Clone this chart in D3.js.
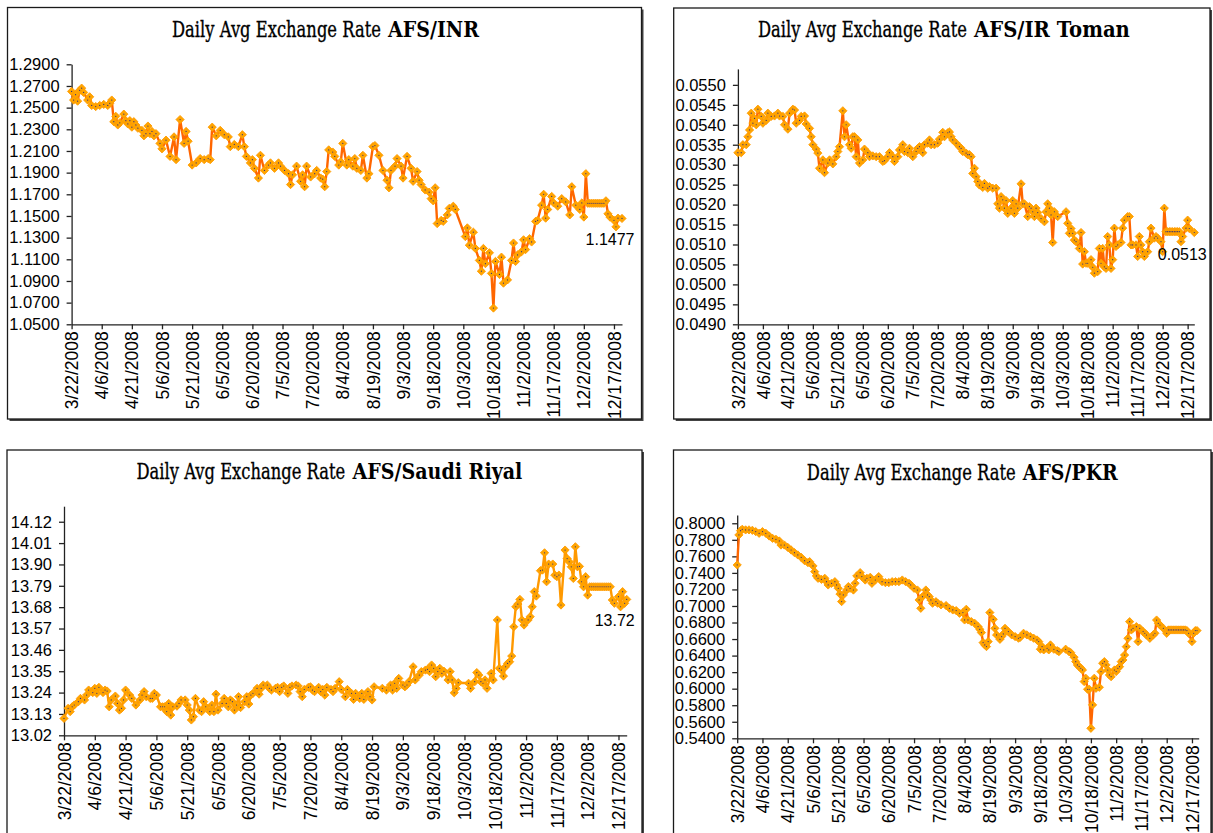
<!DOCTYPE html>
<html><head><meta charset="utf-8">
<script src="https://cdn.jsdelivr.net/npm/d3@7"></script>
<style>body{margin:0;background:#fff}svg{display:block}</style>
</head><body>
<svg id="c" width="1213" height="833"></svg>
<script>
// ---------- DATA ----------
const startDate = "2008-03-22";
const xTickLabels = ["3/22/2008","4/6/2008","4/21/2008","5/6/2008","5/21/2008","6/5/2008","6/20/2008","7/5/2008","7/20/2008","8/4/2008","8/19/2008","9/3/2008","9/18/2008","10/3/2008","10/18/2008","11/2/2008","11/17/2008","12/2/2008","12/17/2008"];
const titlePrefix = "Daily Avg Exchange Rate";
const seriesNames = ["AFS/INR","AFS/IR Toman","AFS/Saudi Riyal","AFS/PKR"];

const inrTicks = [1.05,1.07,1.09,1.11,1.13,1.15,1.17,1.19,1.21,1.23,1.25,1.27,1.29];
const tomanTicks = [0.049,0.0495,0.05,0.0505,0.051,0.0515,0.052,0.0525,0.053,0.0535,0.054,0.0545,0.055];
const riyalTicks = [13.02,13.13,13.24,13.35,13.46,13.57,13.68,13.79,13.90,14.01,14.12];
const pkrTicks = [0.54,0.56,0.58,0.60,0.62,0.64,0.66,0.68,0.70,0.72,0.74,0.76,0.78,0.80];

// [days after 3/22/2008, rate]
const inrSeries = [[0,1.265],[1,1.257],[2,1.262],[3,1.256],[4,1.266],[5,1.268],[6,1.264],[8,1.257],[9,1.260],[10,1.252],[12,1.251],[14,1.252],[16,1.253],[18,1.252],[19,1.254],[20,1.257],[21,1.237],[22,1.242],[23,1.234],[24,1.236],[26,1.244],[27,1.238],[28,1.235],[29,1.238],[30,1.232],[31,1.237],[32,1.234],[33,1.231],[35,1.229],[36,1.224],[37,1.226],[38,1.233],[39,1.226],[40,1.228],[41,1.224],[42,1.226],[44,1.217],[45,1.212],[47,1.220],[49,1.205],[51,1.223],[52,1.202],[54,1.239],[56,1.217],[57,1.228],[58,1.219],[60,1.197],[62,1.199],[64,1.203],[66,1.202],[68,1.203],[69,1.202],[70,1.232],[72,1.224],[74,1.229],[76,1.225],[78,1.223],[79,1.214],[81,1.216],[83,1.214],[85,1.225],[86,1.214],[87,1.205],[89,1.199],[90,1.202],[91,1.194],[93,1.185],[94,1.206],[96,1.192],[98,1.197],[99,1.199],[101,1.194],[103,1.199],[104,1.196],[106,1.192],[108,1.189],[109,1.179],[110,1.188],[112,1.196],[114,1.182],[115,1.188],[116,1.177],[117,1.196],[119,1.186],[121,1.189],[122,1.192],[124,1.185],[125,1.184],[126,1.177],[127,1.191],[128,1.211],[130,1.209],[131,1.205],[133,1.197],[134,1.200],[135,1.217],[137,1.197],[138,1.202],[140,1.196],[141,1.203],[142,1.194],[144,1.192],[145,1.206],[147,1.185],[148,1.189],[150,1.214],[151,1.215],[153,1.206],[155,1.192],[157,1.183],[158,1.176],[159,1.192],[161,1.196],[162,1.203],[164,1.196],[165,1.185],[167,1.205],[169,1.194],[170,1.182],[172,1.191],[173,1.183],[174,1.179],[176,1.174],[178,1.172],[179,1.166],[180,1.164],[181,1.176],[182,1.143],[184,1.146],[185,1.145],[187,1.151],[188,1.157],[190,1.159],[191,1.156],[196,1.131],[197,1.139],[198,1.123],[200,1.135],[201,1.120],[203,1.109],[204,1.099],[205,1.120],[206,1.106],[208,1.116],[209,1.097],[210,1.065],[211,1.108],[213,1.096],[214,1.112],[215,1.088],[217,1.091],[219,1.109],[220,1.125],[221,1.108],[222,1.114],[224,1.117],[225,1.128],[226,1.119],[228,1.129],[229,1.126],[231,1.145],[232,1.146],[234,1.160],[235,1.170],[236,1.148],[237,1.156],[239,1.168],[240,1.162],[242,1.159],[244,1.166],[246,1.163],[248,1.151],[249,1.177],[251,1.160],[253,1.156],[254,1.162],[255,1.149],[256,1.189],[257,1.1617],[258,1.1617],[259,1.1617],[260,1.1617],[261,1.1617],[262,1.1617],[263,1.1617],[264,1.1617],[265,1.1617],[266,1.164],[267,1.152],[268,1.149],[270,1.146],[271,1.140],[272,1.148],[274,1.1477]];

const tomanSeries = [[0,0.0533],[2,0.0533],[3,0.0535],[5,0.0535],[6,0.0537],[7,0.05387],[8,0.05429],[9,0.05404],[10,0.05416],[11,0.0540],[12,0.05439],[14,0.05421],[15,0.05404],[17,0.05411],[18,0.05429],[20,0.05421],[22,0.05422],[24,0.05429],[25,0.05422],[27,0.05421],[28,0.0540],[30,0.05389],[31,0.05429],[33,0.05439],[34,0.05437],[35,0.05404],[37,0.05411],[38,0.05421],[40,0.05422],[41,0.05402],[43,0.05391],[44,0.0537],[45,0.0535],[47,0.05339],[48,0.05329],[49,0.05291],[51,0.05312],[52,0.0528],[54,0.05304],[55,0.05312],[57,0.05302],[59,0.0532],[60,0.05333],[61,0.05345],[63,0.05435],[64,0.0537],[65,0.0540],[67,0.0535],[68,0.05341],[69,0.0537],[70,0.0537],[71,0.0532],[72,0.05362],[73,0.05304],[75,0.05312],[76,0.05339],[78,0.0533],[79,0.0532],[81,0.05322],[83,0.0532],[85,0.0532],[87,0.05308],[88,0.0531],[90,0.0532],[91,0.0533],[93,0.0532],[94,0.05308],[96,0.0532],[97,0.05337],[99,0.0535],[100,0.05333],[102,0.0533],[103,0.05341],[105,0.0532],[107,0.05333],[108,0.05341],[109,0.05345],[111,0.0533],[112,0.0535],[114,0.05354],[115,0.05362],[116,0.0535],[118,0.0535],[120,0.05354],[121,0.05364],[123,0.05381],[124,0.0537],[126,0.0538],[127,0.05382],[128,0.0537],[129,0.05362],[131,0.05354],[133,0.05345],[134,0.05341],[135,0.05333],[137,0.05329],[138,0.05325],[139,0.05325],[140,0.0532],[141,0.05278],[142,0.05291],[143,0.0527],[144,0.05258],[145,0.05249],[147,0.05243],[148,0.05253],[150,0.05241],[151,0.05245],[153,0.05241],[155,0.05241],[156,0.05202],[157,0.05191],[158,0.0522],[159,0.05212],[160,0.05191],[161,0.0521],[162,0.05178],[164,0.05191],[165,0.0521],[166,0.05178],[167,0.05202],[168,0.05191],[170,0.05252],[171,0.05202],[172,0.05202],[174,0.0517],[175,0.05195],[176,0.05191],[177,0.05182],[178,0.0517],[179,0.05191],[180,0.0518],[182,0.05165],[184,0.05157],[185,0.05182],[186,0.05202],[187,0.05191],[188,0.05174],[189,0.05105],[190,0.05182],[192,0.0517],[197,0.05182],[198,0.05153],[199,0.05128],[200,0.0514],[201,0.05128],[202,0.05111],[203,0.05107],[205,0.0509],[206,0.0513],[207,0.05051],[208,0.05082],[209,0.05053],[210,0.05053],[212,0.05062],[213,0.05043],[214,0.05028],[216,0.05032],[217,0.0509],[218,0.05053],[219,0.0509],[220,0.05044],[221,0.0504],[222,0.0512],[223,0.05099],[224,0.0504],[225,0.05062],[226,0.05141],[227,0.05095],[228,0.05099],[230,0.05105],[231,0.05141],[232,0.05161],[234,0.0517],[235,0.0517],[236,0.05099],[237,0.05099],[239,0.05099],[240,0.0507],[241,0.0512],[242,0.05099],[243,0.05082],[244,0.0507],[246,0.05082],[247,0.05107],[248,0.05141],[250,0.05116],[251,0.0512],[252,0.05116],[254,0.05107],[255,0.05082],[256,0.05191],[257,0.05132],[258,0.05132],[259,0.05132],[260,0.05132],[261,0.05132],[262,0.05132],[263,0.05132],[264,0.05132],[265,0.05132],[266,0.05107],[267,0.0512],[269,0.05141],[270,0.05161],[271,0.0514],[274,0.0513]];

const riyalSeries = [[0,13.107],[2,13.159],[3,13.142],[4,13.167],[5,13.176],[7,13.193],[8,13.21],[10,13.202],[11,13.227],[12,13.253],[14,13.24],[15,13.262],[16,13.236],[17,13.267],[19,13.24],[20,13.253],[21,13.248],[22,13.167],[23,13.202],[25,13.222],[26,13.184],[27,13.15],[28,13.159],[29,13.202],[30,13.253],[32,13.227],[33,13.21],[35,13.176],[37,13.202],[38,13.227],[39,13.245],[40,13.219],[42,13.21],[43,13.21],[44,13.236],[45,13.227],[47,13.167],[48,13.167],[49,13.167],[50,13.142],[51,13.184],[52,13.124],[53,13.167],[55,13.17],[56,13.184],[57,13.202],[59,13.202],[60,13.176],[61,13.15],[62,13.099],[63,13.116],[64,13.21],[66,13.15],[67,13.142],[68,13.193],[69,13.167],[71,13.142],[72,13.176],[73,13.142],[74,13.232],[75,13.15],[77,13.184],[78,13.21],[79,13.184],[80,13.167],[81,13.202],[82,13.193],[83,13.15],[84,13.176],[85,13.219],[86,13.163],[88,13.193],[89,13.219],[90,13.181],[91,13.227],[92,13.236],[94,13.262],[95,13.232],[96,13.262],[97,13.279],[99,13.279],[100,13.262],[101,13.253],[103,13.262],[104,13.267],[105,13.245],[106,13.267],[107,13.274],[109,13.236],[110,13.267],[111,13.274],[113,13.279],[114,13.274],[115,13.245],[116,13.219],[117,13.256],[119,13.267],[120,13.27],[121,13.253],[122,13.245],[124,13.267],[125,13.245],[126,13.256],[127,13.227],[128,13.267],[130,13.256],[131,13.245],[132,13.262],[134,13.296],[135,13.256],[137,13.219],[138,13.256],[140,13.236],[141,13.205],[142,13.236],[144,13.21],[145,13.236],[146,13.205],[148,13.245],[149,13.219],[150,13.202],[151,13.27],[155,13.262],[157,13.253],[159,13.279],[160,13.253],[161,13.288],[162,13.262],[163,13.313],[165,13.279],[166,13.27],[167,13.279],[168,13.296],[170,13.373],[171,13.305],[173,13.33],[174,13.348],[176,13.356],[177,13.36],[178,13.348],[179,13.382],[180,13.365],[181,13.322],[182,13.348],[183,13.365],[184,13.339],[185,13.35],[187,13.305],[188,13.348],[189,13.305],[190,13.239],[191,13.262],[192,13.291],[197,13.288],[198,13.262],[200,13.296],[201,13.343],[202,13.33],[203,13.296],[204,13.288],[205,13.305],[206,13.262],[208,13.339],[209,13.305],[211,13.614],[212,13.365],[213,13.356],[214,13.325],[215,13.373],[216,13.39],[217,13.399],[218,13.428],[219,13.579],[220,13.682],[221,13.696],[222,13.72],[223,13.614],[224,13.588],[226,13.614],[227,13.631],[228,13.682],[229,13.76],[230,13.737],[232,13.868],[233,13.871],[234,13.96],[235,13.811],[236,13.902],[238,13.902],[239,13.845],[240,13.837],[241,13.845],[242,13.691],[244,13.974],[245,13.93],[246,13.914],[247,13.888],[248,13.828],[249,13.991],[250,13.888],[251,13.89],[252,13.811],[253,13.785],[254,13.837],[255,13.742],[256,13.785],[257,13.785],[258,13.785],[259,13.785],[260,13.785],[261,13.785],[262,13.785],[263,13.785],[264,13.785],[265,13.785],[266,13.785],[267,13.717],[268,13.70],[270,13.734],[271,13.682],[272,13.76],[273,13.70],[274,13.72]];

const pkrSeries = [[0,0.7496],[1,0.7859],[2,0.791],[3,0.7927],[5,0.792],[7,0.792],[9,0.7915],[11,0.7899],[13,0.7879],[15,0.7899],[17,0.7879],[19,0.7846],[21,0.7818],[23,0.7806],[25,0.7786],[26,0.7737],[28,0.7737],[30,0.7709],[32,0.7677],[34,0.7645],[36,0.7617],[38,0.7588],[40,0.7548],[42,0.7524],[43,0.7536],[45,0.7484],[46,0.7415],[47,0.7363],[48,0.7335],[50,0.7322],[52,0.7335],[53,0.7294],[54,0.7254],[56,0.7274],[58,0.7294],[59,0.7254],[60,0.7214],[61,0.7145],[62,0.7053],[63,0.7133],[65,0.7193],[66,0.7234],[67,0.7214],[69,0.7193],[70,0.7274],[71,0.7363],[73,0.7403],[74,0.7355],[76,0.7314],[77,0.7335],[79,0.7347],[80,0.7274],[82,0.7314],[84,0.7355],[86,0.7294],[88,0.7282],[90,0.7282],[92,0.7294],[94,0.7294],[96,0.7294],[98,0.7314],[100,0.7294],[102,0.7274],[103,0.7254],[105,0.7214],[107,0.7193],[108,0.7073],[109,0.6972],[110,0.7113],[112,0.7193],[113,0.7133],[114,0.7113],[115,0.7073],[116,0.7033],[118,0.7052],[119,0.7033],[121,0.7013],[124,0.7005],[126,0.6972],[128,0.6952],[130,0.6944],[132,0.6912],[134,0.692],[135,0.6831],[136,0.696],[137,0.6831],[139,0.6811],[141,0.6791],[143,0.6751],[144,0.6718],[145,0.6678],[146,0.6557],[147,0.6529],[148,0.6509],[149,0.6569],[150,0.692],[152,0.6839],[153,0.673],[154,0.665],[156,0.6597],[157,0.663],[158,0.6662],[159,0.673],[161,0.669],[163,0.665],[165,0.663],[167,0.661],[168,0.662],[170,0.667],[172,0.665],[174,0.663],[176,0.661],[178,0.6589],[179,0.6569],[180,0.6477],[181,0.6509],[182,0.6469],[184,0.6489],[185,0.6469],[186,0.6529],[188,0.6477],[190,0.646],[191,0.6448],[195,0.6477],[197,0.6448],[198,0.6436],[200,0.638],[201,0.6327],[202,0.6287],[203,0.6267],[204,0.6247],[205,0.6227],[206,0.6086],[207,0.6126],[208,0.5993],[209,0.5993],[210,0.5521],[211,0.5804],[212,0.6126],[213,0.6005],[215,0.6017],[216,0.6207],[217,0.6307],[218,0.6327],[219,0.6287],[220,0.6226],[221,0.6166],[222,0.6145],[224,0.6226],[225,0.6207],[226,0.6247],[227,0.6266],[228,0.6327],[229,0.6347],[230,0.6407],[231,0.6508],[232,0.6609],[233,0.681],[234,0.671],[235,0.673],[237,0.675],[238,0.6569],[239,0.673],[241,0.669],[242,0.667],[243,0.6649],[245,0.6609],[247,0.6649],[248,0.667],[249,0.683],[250,0.679],[251,0.677],[253,0.673],[255,0.667],[256,0.671],[257,0.671],[258,0.671],[259,0.671],[260,0.671],[261,0.671],[262,0.671],[263,0.671],[264,0.671],[265,0.671],[266,0.671],[267,0.6702],[268,0.667],[270,0.6569],[271,0.667],[272,0.6702],[273,0.6702]];

const lastLabels = ["1.1477","0.0513","13.72",null];

// ---------- LAYOUT ----------
const svg = d3.select("#c");
const base = new Date(2008, 2, 22);
const endDate = d3.timeDay.offset(base, 274);
const tickDates = xTickLabels.map((_, i) => d3.timeDay.offset(base, i * 15));

const panels = [
  {series: inrSeries, ticks: inrTicks, fmt: ".4f", yDom: [1.05, 1.29],
   box: [7.5, 7.5, 641.5, 419], xr: [71.6, 622], yr: [324.3, 64.3], titleX: 172, titleY: 37, w2: 91,
   line: "#FF6600"},
  {series: tomanSeries, ticks: tomanTicks, fmt: ".4f", yDom: [0.049, 0.0554],
   box: [673.7, 8, 1210, 419], xr: [737.9, 1194.3], yr: [324.3, 68.9], titleX: 758, titleY: 37, w2: 156,
   line: "#FF6600"},
  {series: riyalSeries, ticks: riyalTicks, fmt: ".2f", yDom: [13.02, 14.2],
   box: [7, 450, 642, 900], xr: [64, 626.7], yr: [735.3, 506.2], titleX: 136.4, titleY: 479, w2: 170,
   line: "#FF9900"},
  {series: pkrSeries, ticks: pkrTicks, fmt: ".4f", yDom: [0.54, 0.81],
   box: [673.5, 450, 1211, 900], xr: [737.2, 1198.7], yr: [738.3, 515], titleX: 806.8, titleY: 480, w2: 95,
   line: "#FF6600"}
];

const titleFont = "'DejaVu Serif','Liberation Serif',serif";

function fitText(sel, targetW) {
  const w = sel.node().getComputedTextLength() || targetW;
  return targetW / w;
}

panels.forEach((p, pi) => {
  const g = svg.append("g");
  const [x0, y0, x1, y1] = p.box;
  // frame with shadow
  g.append("rect").attr("x", x0 + 2).attr("y", y0 + 2).attr("width", x1 - x0).attr("height", y1 - y0)
    .attr("fill", "#444");
  g.append("rect").attr("x", x0).attr("y", y0).attr("width", x1 - x0).attr("height", y1 - y0)
    .attr("fill", "#fff").attr("stroke", "#1a1a1a").attr("stroke-width", 1.3);

  // title: two parts, each scaled horizontally to a condensed width
  const t1 = g.append("text").attr("x", 0).attr("y", 0)
    .style("font-family", titleFont).style("font-size", "22px").style("font-weight", "normal")
    .attr("fill", "#000").attr("stroke", "#000").attr("stroke-width", 0.35).text(titlePrefix);
  const s1 = fitText(t1, 209);
  t1.attr("transform", `translate(${p.titleX},${p.titleY}) scale(${s1},1)`);
  const t2 = g.append("text").attr("x", 0).attr("y", 0)
    .style("font-family", titleFont).style("font-size", "22px").style("font-weight", "bold")
    .attr("fill", "#000").text(seriesNames[pi]);
  const s2 = fitText(t2, p.w2);
  t2.attr("transform", `translate(${p.titleX + 216},${p.titleY}) scale(${s2},1)`);

  const x = d3.scaleTime().domain([base, endDate]).range(p.xr);
  const y = d3.scaleLinear().domain(p.yDom).range(p.yr);

  // y axis
  const ya = g.append("g").attr("transform", `translate(${p.xr[0]},0)`)
    .call(d3.axisLeft(y).tickValues(p.ticks).tickFormat(d3.format(p.fmt)).tickSize(5).tickSizeOuter(0).tickPadding(7));
  ya.selectAll("text").style("font-family", "'Liberation Sans',Arial,sans-serif").style("font-size", "16.5px").attr("fill", "#000");
  ya.selectAll("line,path").attr("stroke", "#222").attr("stroke-width", 1.3);

  // x axis
  const xa = g.append("g").attr("transform", `translate(0,${p.yr[0]})`)
    .call(d3.axisBottom(x).tickValues(tickDates).tickFormat((d, i) => xTickLabels[i]).tickSize(5).tickSizeOuter(0));
  xa.selectAll("line,path").attr("stroke", "#222").attr("stroke-width", 1.3);
  xa.selectAll("text")
    .attr("transform", "rotate(-90)").attr("x", -7).attr("y", 0).attr("dy", "0.35em")
    .style("text-anchor", "end")
    .style("font-family", "'Liberation Sans',Arial,sans-serif").style("font-size", "17.5px").attr("fill", "#000");

  // line
  const data = p.series.map(d => ({date: d3.timeDay.offset(base, d[0]), v: d[1]}));
  const lineGen = d3.line().x(d => x(d.date)).y(d => y(d.v));
  g.append("path").datum(data).attr("d", lineGen).attr("fill", "none")
    .attr("stroke", p.line).attr("stroke-width", 2.4).attr("stroke-linejoin", "round");

  // markers
  const sym = d3.symbol().type(d3.symbolSquare).size(34);
  g.append("g").selectAll("path").data(data).join("path")
    .attr("d", sym)
    .attr("transform", d => `translate(${x(d.date)},${y(d.v)}) rotate(45)`)
    .attr("fill", "#FFA500").attr("stroke", "#FF9900").attr("stroke-width", 0.8);
  g.append("g").selectAll("circle").data(data).join("circle")
    .attr("cx", d => x(d.date)).attr("cy", d => y(d.v)).attr("r", 0.6).attr("fill", "#2a2a80");

  // last value label
  if (lastLabels[pi]) {
    const last = data[data.length - 1];
    g.append("text").attr("x", x(last.date) - 12).attr("y", y(last.v) + 27)
      .attr("text-anchor", "middle")
      .style("font-family", "'Liberation Sans',Arial,sans-serif").style("font-size", "16px")
      .attr("fill", "#000").text(lastLabels[pi]);
  }
});
</script>
</body></html>
